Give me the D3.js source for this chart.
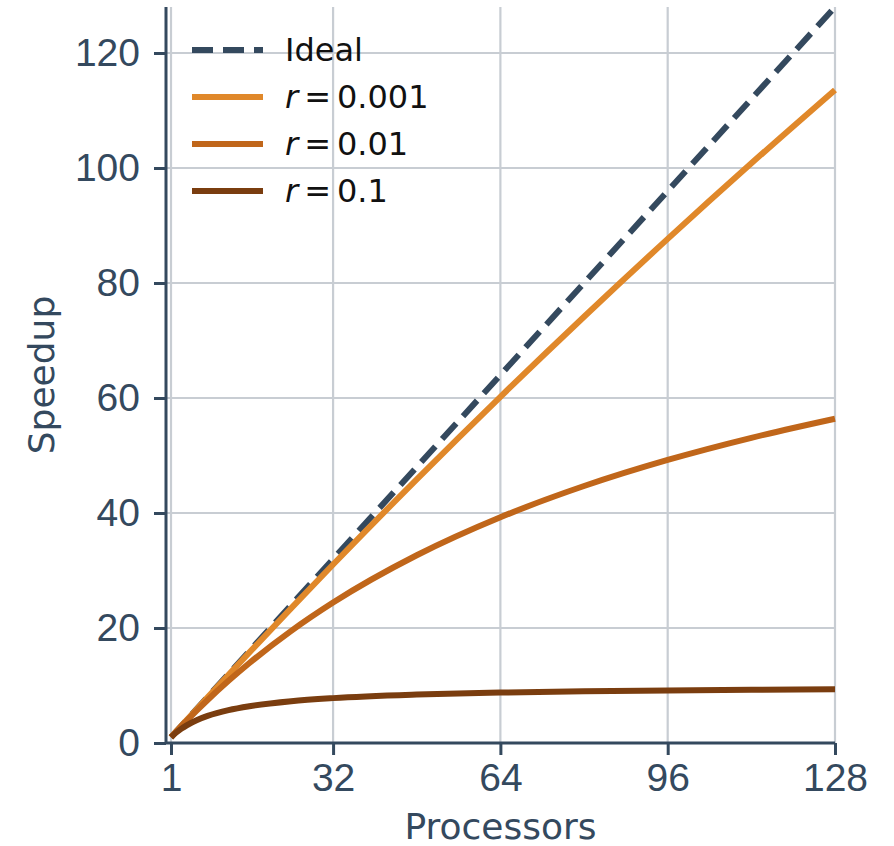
<!DOCTYPE html>
<html>
<head>
<meta charset="utf-8">
<script src="https://cdn.jsdelivr.net/npm/d3@7"></script>
<style>
  body { margin: 0; background: #fff; }
  svg { font-family: "DejaVu Sans", sans-serif; }
  .axis path, .axis line { stroke: #34495e; stroke-width: 3; }
  .axis text { fill: #34495e; font-size: 39px; }
  .grid line { stroke: #c8cdd3; stroke-width: 2.2; }
  .axis_labels { fill: #34495e; font-size: 36px; text-anchor: middle; }
  .legend_text { fill: #111; font-size: 32px; }
</style>
</head>
<body>
<svg id="svg-speedup" width="894" height="846"></svg>
<script>
// processors on x, speedup
var procs = [1, 2, 3, 4, 6, 8, 12, 16, 24, 32, 48, 64, 80, 96, 112, 128];
var r0001 = [1, 1.998, 2.994, 3.988, 5.97, 7.944, 11.87, 15.76, 23.46, 31.04, 45.85, 60.21, 74.14, 87.67, 100.81, 113.58];
var r001 = [1, 1.98, 2.941, 3.883, 5.714, 7.477, 10.81, 13.91, 19.51, 24.43, 32.65, 39.26, 44.69, 49.23, 53.08, 56.39];
var r01 = [1, 1.818, 2.5, 3.077, 4.0, 4.706, 5.714, 6.4, 7.273, 7.805, 8.421, 8.767, 8.989, 9.143, 9.256, 9.343];
var idealX = [1, 128];
var idealY = [1, 128];
var xTicks = [1, 32, 64, 96, 128];
var yTicks = [0, 20, 40, 60, 80, 100, 120];
var seriesNames = ["Ideal", "0.001", "0.01", "0.1"];
var seriesColors = ["#34495e", "#e0882a", "#c0661a", "#7a3d0f"];

var svg = d3.select("#svg-speedup");
var plotLeft = 166, plotRight = 835, plotTop = 7, plotBottom = 743;

var xScale = d3.scaleLinear().domain([1, 128]).range([171, plotRight]);
var yScale = d3.scaleLinear().domain([0, 128]).range([plotBottom, plotTop]);

// grid
svg.append("g").attr("class", "grid")
    .selectAll("line").data(xTicks).enter().append("line")
    .attr("x1", function(d) { return xScale(d); })
    .attr("x2", function(d) { return xScale(d); })
    .attr("y1", plotTop).attr("y2", plotBottom);
svg.append("g").attr("class", "grid")
    .selectAll("line").data(yTicks).enter().append("line")
    .attr("x1", plotLeft).attr("x2", plotRight)
    .attr("y1", function(d) { return yScale(d); })
    .attr("y2", function(d) { return yScale(d); });

// lines
var line = d3.line()
    .x(function(d) { return xScale(d[0]); })
    .y(function(d) { return yScale(d[1]); })
    .curve(d3.curveMonotoneX);

var series = [
  d3.zip(idealX, idealY),
  d3.zip(procs, r0001),
  d3.zip(procs, r001),
  d3.zip(procs, r01)
];

svg.selectAll("series_lines")
    .data(series)
    .enter()
    .append("path")
    .attr("d", line)
    .attr("fill", "none")
    .attr("stroke", function(d, i) { return seriesColors[i]; })
    .attr("stroke-width", 6)
    .attr("stroke-dasharray", function(d, i) { return i == 0 ? "21,10" : null; });

// axes
svg.append("g")
    .attr("class", "axis")
    .attr("transform", "translate(0," + plotBottom + ")")
    .call(d3.axisBottom(xScale).tickValues(xTicks).tickSize(12).tickPadding(8).tickSizeOuter(0))
    .call(function(g) { g.select(".domain").attr("d", "M" + plotLeft + ",0H" + plotRight); });

svg.append("g")
    .attr("class", "axis")
    .attr("transform", "translate(" + plotLeft + ",0)")
    .call(d3.axisLeft(yScale).tickValues(yTicks).tickSize(12).tickPadding(14).tickSizeOuter(0))
    .call(function(g) { g.select(".domain").attr("d", "M0," + plotTop + "V" + plotBottom); });

svg.append("text")
    .attr("class", "axis_labels")
    .attr("x", (plotLeft + plotRight) / 2)
    .attr("y", 839)
    .text("Processors");

svg.append("text")
    .attr("class", "axis_labels")
    .attr("transform", "translate(54," + (plotTop + plotBottom) / 2 + ") rotate(-90)")
    .text("Speedup");

// legend
var legend = svg.selectAll("legend_rows")
    .data(seriesNames)
    .enter()
    .append("g")
    .attr("transform", function(d, i) { return "translate(192," + (50 + i * 47) + ")"; });

legend.append("line")
    .attr("x1", 0).attr("x2", 71)
    .attr("y1", 0).attr("y2", 0)
    .attr("stroke", function(d, i) { return seriesColors[i]; })
    .attr("stroke-width", 6)
    .attr("stroke-dasharray", function(d, i) { return i == 0 ? "21,10" : null; });

legend.append("text")
    .attr("class", "legend_text")
    .attr("x", 93)
    .attr("dy", "0.35em")
    .each(function(d, i) {
      var t = d3.select(this);
      if (i == 0) {
        t.text(d);
      } else {
        t.append("tspan").style("font-style", "italic").text("r");
        t.append("tspan").attr("dx", 6).text("=");
        t.append("tspan").attr("dx", 6).text(d);
      }
    });
</script>
</body>
</html>
